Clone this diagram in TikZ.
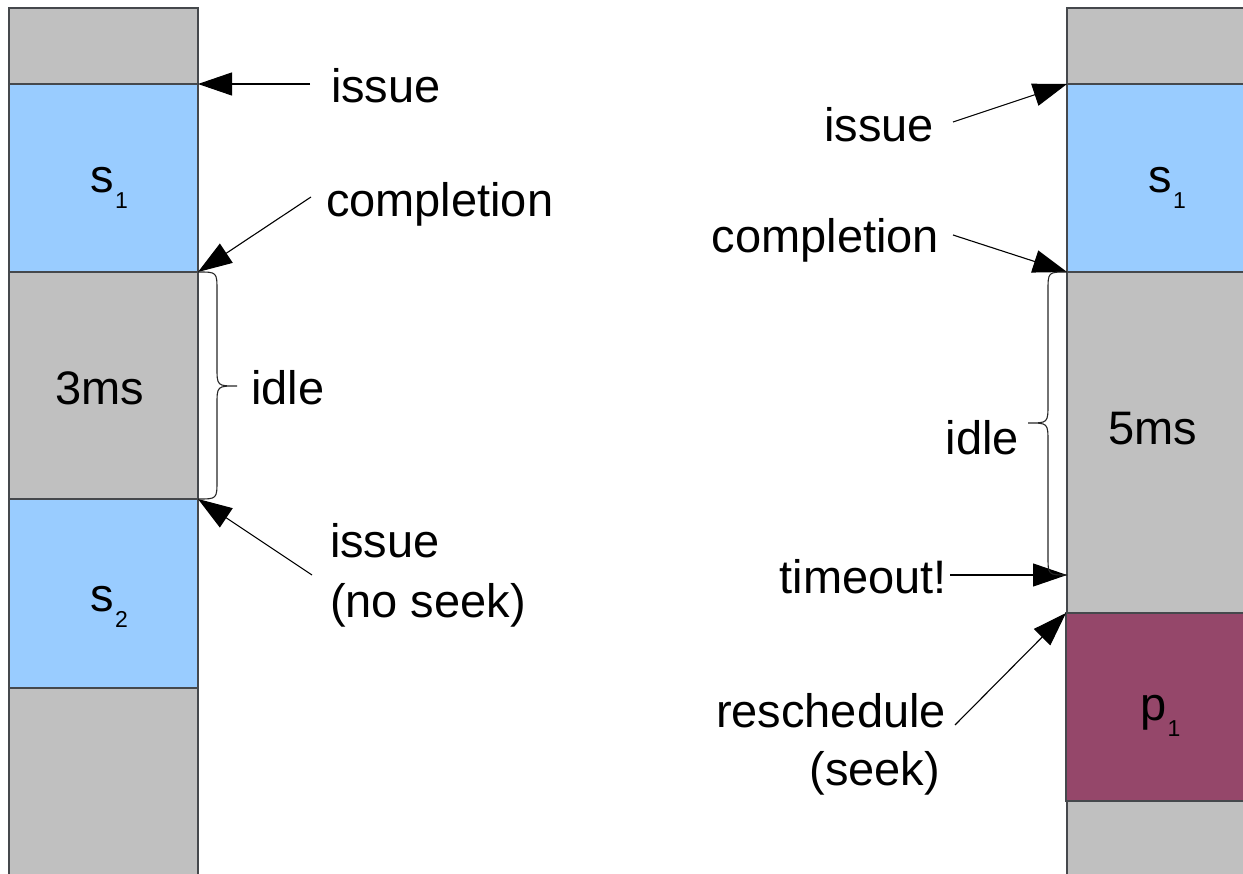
\documentclass[tikz,border=0pt]{standalone}
\usepackage{fontspec}
\setmainfont{Liberation Sans}
\usetikzlibrary{arrows.meta}

\definecolor{idlegray}{HTML}{C0C0C0}
\definecolor{syncblue}{HTML}{99CCFF}
\definecolor{prefmauve}{RGB}{149,71,106}
\definecolor{edgegray}{HTML}{45484C}

% subscript used inside the column labels
\newcommand{\lowsub}[1]{\kern1.5pt\raisebox{-16pt}{\fontsize{23}{23}\selectfont #1}}

\tikzset{
  seg/.style={draw=edgegray, line width=1.3pt, inner sep=0pt, outer sep=0pt,
              anchor=north west, minimum width=#1},
  lbl/.style={inner sep=0pt, outer sep=0pt, font=\fontsize{47}{60}\selectfont},
  ptr/.style={draw=black, line width=1.1pt, -{Triangle[length=34pt,width=23pt]}},
  curly/.style={draw=black!85, line width=1.1pt},
}

\begin{document}
\begin{tikzpicture}[x=1pt, y=-1pt]
\useasboundingbox (0,0) rectangle (1243,874);
\clip (0,0) rectangle (1243,874);

% ---------------- left column ----------------
\node[seg=189pt, fill=idlegray,  minimum height=76pt]  (Lg1) at (9,8)   {};
\node[seg=189pt, fill=syncblue,  minimum height=188pt] (Ls1) at (9,84)  {};
\node[seg=189pt, fill=idlegray,  minimum height=227pt] (Lg2) at (9,272) {};
\node[seg=189pt, fill=syncblue,  minimum height=189pt] (Ls2) at (9,499) {};
\node[seg=189pt, fill=idlegray,  minimum height=200pt] (Lg3) at (9,688) {};

\node[lbl, anchor=base west] (Ls1t) at (90,193) {s\lowsub{1}};
\node[lbl, anchor=base west] (Lg2t) at (55,405) {3ms};
\node[lbl, anchor=base west] (Ls2t) at (90,611) {s\lowsub{2}};

% ---------------- right column ----------------
\node[seg=200pt, fill=idlegray,  minimum height=76pt]  (Rg1) at (1067,8)   {};
\node[seg=200pt, fill=syncblue,  minimum height=188pt] (Rs1) at (1067,84)  {};
\node[seg=200pt, fill=idlegray,  minimum height=341pt] (Rg2) at (1067,272) {};
\node[seg=200pt, fill=prefmauve, minimum height=188pt] (Rp1) at (1066,613) {};
\node[seg=200pt, fill=idlegray,  minimum height=100pt] (Rg3) at (1067,801) {};

\node[lbl, anchor=base west] (Rs1t) at (1148,193) {s\lowsub{1}};
\node[lbl, anchor=base west] (Rg2t) at (1108,445) {5ms};
\node[lbl, anchor=base west] (Rp1t) at (1140,720) {p\lowsub{1}};

% ---------------- left annotations ----------------
\node[lbl, anchor=base west] (LissueA) at (331,103) {issue};
\node[lbl, anchor=base west] (Lcompl)  at (326,217) {completion};
\node[lbl, anchor=base west] (Lidle)   at (251,405) {idle};
\node[lbl, anchor=base west] (LissueB) at (330,557) {issue};
\node[lbl, anchor=base west] (Lnoseek) at (330,617) {(no seek)};

\coordinate (LissueAtail) at (310,84);
\coordinate (Lcompltail)  at (311,197);
\coordinate (LissueBtail) at (312,575);

\draw[ptr] (LissueAtail) -- (Ls1.north east);
\draw[ptr] (Lcompltail)  -- (Ls1.south east);
\draw[ptr] (LissueBtail) -- (Ls2.north east);

% brace spanning the idle gap
\draw[curly] (Lg2.north east) .. controls (217,272) .. (217,291)
  -- (217,367) .. controls (217,386) .. (237,386)
  .. controls (217,386) .. (217,405)
  -- (217,480) .. controls (217,499) .. (Lg2.south east);

% ---------------- right annotations ----------------
\node[lbl, anchor=base east] (Rissue)  at (934,142) {issue};
\node[lbl, anchor=base east] (Rcompl)  at (939,253) {completion};
\node[lbl, anchor=base east] (Ridle)   at (1019,455) {idle};
\node[lbl, anchor=base east] (Rtime)   at (947,593) {timeout!};
\node[lbl, anchor=base east] (Rresch)  at (946,727) {reschedule};
\node[lbl, anchor=base east] (Rseek)   at (940,785) {(seek)};

\coordinate (Rissuetail) at (953,122);
\coordinate (Rcompltail) at (953,235);
\coordinate (Rtimetail)  at (950,575);
\coordinate (Rtimehead)  at (1067,575);
\coordinate (Rreschtail) at (955,725);

\draw[ptr] (Rissuetail) -- (Rs1.north west);
\draw[ptr] (Rcompltail) -- (Rs1.south west);
\draw[ptr] (Rtimetail)  -- (Rtimehead);
\draw[ptr] (Rreschtail) -- (Rp1.north west);

% brace from completion to timeout
\draw[curly] (Rg2.north west) .. controls (1048,272) .. (1048,291)
  -- (1048,404) .. controls (1048,423) .. (1028,423)
  .. controls (1048,423) .. (1048,442)
  -- (1048,556) .. controls (1048,575) .. (Rtimehead);
\end{tikzpicture}
\end{document}
